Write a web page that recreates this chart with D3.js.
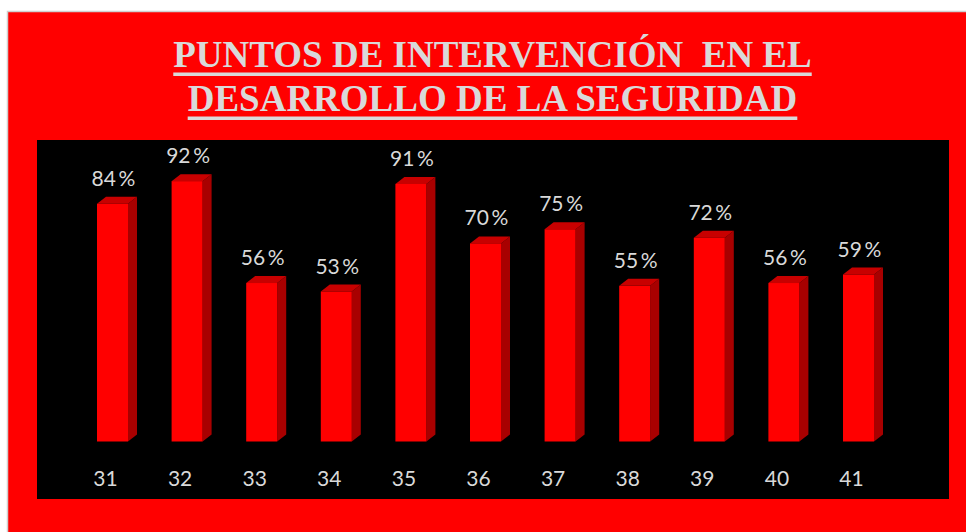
<!DOCTYPE html>
<html>
<head>
    <meta charset="utf-8" />
    <script src="https://d3js.org/d3.v7.min.js"></script>
    <style>
        body { margin: 0; background: #fff; }
        svg { display: block; }
    </style>
</head>
<body>
    <script>
        var categories = ["31", "32", "33", "34", "35", "36", "37", "38", "39", "40", "41"];
        var values = [84, 92, 56, 53, 91, 70, 75, 55, 72, 56, 59];
        var titleLines = ["PUNTOS DE INTERVENCIÓN\u00a0 EN EL", "DESARROLLO DE LA SEGURIDAD"];

        var width = 966, height = 532;
        var barW = 31, dx = 9, dy = 7;

        var svg = d3.select("body").append("svg")
            .attr("width", width)
            .attr("height", height);

        // red slide background with thin grey frame
        svg.append("rect")
            .attr("x", 7.5).attr("y", 11.5)
            .attr("width", width).attr("height", height)
            .attr("fill", "#ff0000")
            .attr("stroke", "#cfcfcf")
            .attr("stroke-width", 1.5);

        // title, underlined
        var titleY = [67, 111];
        titleLines.forEach(function (t, i) {
            var txt = svg.append("text")
                .attr("x", 492.5)
                .attr("y", titleY[i])
                .attr("text-anchor", "middle")
                .attr("font-family", "'Liberation Serif', 'Times New Roman', serif")
                .attr("font-weight", "bold")
                .attr("font-size", 37)
                .attr("fill", "#d9d9d9")
                .text(t);
            var w = txt.node().getComputedTextLength();
            svg.append("rect")
                .attr("x", 492.5 - w / 2)
                .attr("y", titleY[i] + 5.5)
                .attr("width", w)
                .attr("height", 3.5)
                .attr("fill", "#d9d9d9");
        });

        // black plot panel
        svg.append("rect")
            .attr("x", 37).attr("y", 140)
            .attr("width", 912).attr("height", 359)
            .attr("fill", "#000");

        var x = d3.scalePoint()
            .domain(categories)
            .range([112.5, 858.5]);

        var y = d3.scaleLinear()
            .domain([0, 100])
            .range([441.5, 158.5]);

        var data = categories.map(function (c, i) { return { cat: c, val: values[i] }; });

        var bars = svg.append("g").selectAll("g")
            .data(data)
            .enter().append("g");

        // side face
        bars.append("path")
            .attr("fill", "#a80000")
            .attr("d", function (d) {
                var x1 = x(d.cat) + barW / 2, top = y(d.val), bot = y(0);
                return "M" + x1 + "," + top + "L" + (x1 + dx) + "," + (top - dy) +
                    "L" + (x1 + dx) + "," + (bot - dy) + "L" + x1 + "," + bot + "Z";
            });

        // top face
        bars.append("path")
            .attr("fill", "#c80000")
            .attr("d", function (d) {
                var x0 = x(d.cat) - barW / 2, top = y(d.val);
                return "M" + x0 + "," + top + "L" + (x0 + dx) + "," + (top - dy) +
                    "L" + (x0 + barW + dx) + "," + (top - dy) + "L" + (x0 + barW) + "," + top + "Z";
            });

        // front face
        bars.append("rect")
            .attr("fill", "#ff0000")
            .attr("x", function (d) { return x(d.cat) - barW / 2; })
            .attr("y", function (d) { return y(d.val); })
            .attr("width", barW)
            .attr("height", function (d) { return y(0) - y(d.val); });

        // value labels
        bars.append("text")
            .attr("x", function (d) { return x(d.cat) + 1; })
            .attr("y", function (d) { return y(d.val) - dy - 11; })
            .attr("text-anchor", "middle")
            .attr("font-family", "Lato, 'Open Sans', sans-serif")
            .attr("font-size", 21)
            .attr("fill", "#d9d9d9")
            .text(function (d) { return d.val + "\u2009%"; });

        // category labels
        bars.append("text")
            .attr("x", function (d) { return x(d.cat) - 7; })
            .attr("y", 486)
            .attr("text-anchor", "middle")
            .attr("font-family", "Lato, 'Open Sans', sans-serif")
            .attr("font-size", 21)
            .attr("fill", "#d9d9d9")
            .text(function (d) { return d.cat; });
    </script>
</body>
</html>
